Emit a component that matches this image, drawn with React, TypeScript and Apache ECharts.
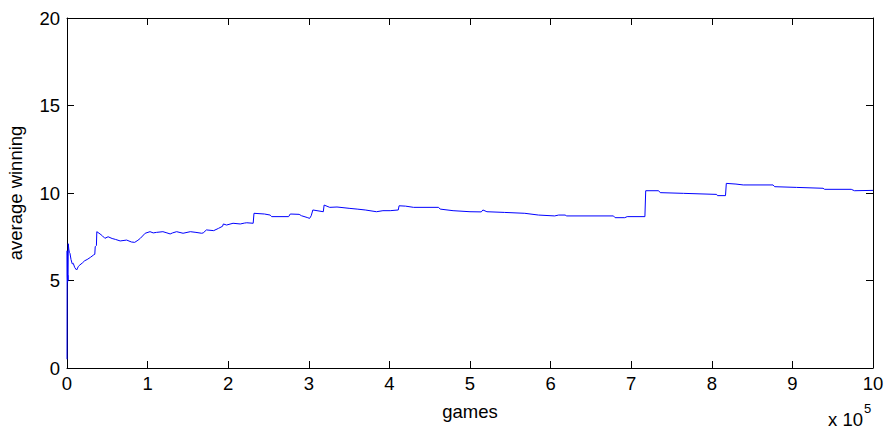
import React, { useEffect, useRef } from "react";
import * as echarts from "echarts";

// games in units of 1e5
const gamesE5: number[] = [
  0, 0.002, 0.004, 0.007, 0.01, 0.013, 0.016, 0.022, 0.03, 0.037, 0.05, 0.065, 0.078, 0.095, 0.11, 0.12,
  0.14, 0.16, 0.19, 0.22, 0.25, 0.29, 0.33, 0.345, 0.35, 0.365, 0.37, 0.41, 0.44, 0.47, 0.51, 0.56, 0.6,
  0.66, 0.74, 0.8, 0.84, 0.88, 0.91, 0.97, 1.03, 1.07, 1.11, 1.19, 1.24, 1.28, 1.31, 1.36, 1.44, 1.53,
  1.6, 1.67, 1.69, 1.73, 1.82, 1.88, 1.93, 1.94, 1.98, 2.06, 2.15, 2.2, 2.23, 2.31, 2.315, 2.32, 2.45,
  2.52, 2.54, 2.75, 2.77, 2.88, 2.91, 2.98, 3.01, 3.03, 3.05, 3.18, 3.19, 3.26, 3.35, 3.51, 3.6, 3.7,
  3.84, 3.92, 4.01, 4.11, 4.12, 4.2, 4.3, 4.61, 4.63, 4.79, 5.0, 5.14, 5.16, 5.21, 5.43, 5.68, 5.85,
  6.05, 6.1, 6.18, 6.2, 6.78, 6.8, 6.92, 6.95, 7.17, 7.18, 7.34, 7.36, 7.65, 8.06, 8.07, 8.17, 8.18,
  8.3, 8.39, 8.76, 8.78, 9.05, 9.38, 9.4, 9.73, 9.77, 10,
];
const avgWinning: number[] = [
  0.5, 6.7, 5.3, 4.9, 5.3, 5.0, 7.1, 6.8, 6.6, 6.55, 6.2, 5.95, 5.98, 5.75, 5.65, 5.6,
  5.8, 5.89, 6.0, 6.13, 6.2, 6.32, 6.46, 6.5, 6.93, 7.0, 7.79, 7.66, 7.55, 7.41, 7.5, 7.4, 7.35,
  7.26, 7.31, 7.2, 7.18, 7.3, 7.41, 7.7, 7.79, 7.72, 7.75, 7.79, 7.72, 7.66, 7.72, 7.79, 7.7, 7.79,
  7.75, 7.7, 7.72, 7.89, 7.85, 7.98, 8.1, 8.23, 8.17, 8.27, 8.23, 8.28, 8.3, 8.27, 8.3, 8.84, 8.8,
  8.74, 8.65, 8.65, 8.8, 8.78, 8.7, 8.6, 8.55, 8.7, 9.03, 8.93, 9.31, 9.18, 9.2, 9.12, 9.08, 9.03,
  8.93, 8.99, 8.99, 9.03, 9.27, 9.25, 9.18, 9.18, 9.08, 8.99, 8.93, 8.92, 9.03, 8.93, 8.89, 8.84, 8.74,
  8.69, 8.74, 8.74, 8.69, 8.69, 8.59, 8.59, 8.65, 8.65, 10.13, 10.13, 10.02, 9.98, 9.92, 9.85, 9.85, 10.55,
  10.51, 10.46, 10.46, 10.36, 10.32, 10.27, 10.21, 10.21, 10.13, 10.15,
];

const xTicks = [0, 1, 2, 3, 4, 5, 6, 7, 8, 9, 10];
const yTicks = [0, 5, 10, 15, 20];

const FONT = "'Liberation Sans', Arial, sans-serif";
const FS = 18.5;

export default function App() {
  const ref = useRef<HTMLDivElement>(null);
  useEffect(() => {
    if (!ref.current) return;
    const chart = echarts.init(ref.current, null, { renderer: "svg" });
    const data = gamesE5.map((g, i) => [g, avgWinning[i]]);
    const axisLine = { show: true, onZero: false, lineStyle: { color: "#000", width: 1 } };
    const tick = { show: true, inside: true, length: 7, lineStyle: { color: "#000", width: 1 } };
    chart.setOption({
      animation: false,
      backgroundColor: "#fff",
      grid: { left: 67, right: 13, top: 18, bottom: 61, containLabel: false, outerBoundsMode: "none" },
      xAxis: [
        {
          type: "value",
          min: xTicks[0],
          max: xTicks[xTicks.length - 1],
          interval: 1,
          position: "bottom",
          axisLine,
          axisTick: tick,
          splitLine: { show: false },
          axisLabel: { color: "#000", fontFamily: FONT, fontSize: FS, margin: 6 },
          name: "games",
          nameLocation: "middle",
          nameGap: 34,
          nameTextStyle: { color: "#000", fontFamily: FONT, fontSize: FS },
        },
        {
          type: "value",
          min: xTicks[0],
          max: xTicks[xTicks.length - 1],
          interval: 1,
          position: "top",
          axisLine,
          axisTick: tick,
          splitLine: { show: false },
          axisLabel: { show: false },
        },
      ],
      yAxis: [
        {
          type: "value",
          min: yTicks[0],
          max: yTicks[yTicks.length - 1],
          interval: 5,
          position: "left",
          axisLine,
          axisTick: tick,
          splitLine: { show: false },
          axisLabel: { color: "#000", fontFamily: FONT, fontSize: FS, margin: 7 },
          name: "average winning",
          nameLocation: "middle",
          nameGap: 42,
          nameTextStyle: { color: "#000", fontFamily: FONT, fontSize: FS },
        },
        {
          type: "value",
          min: yTicks[0],
          max: yTicks[yTicks.length - 1],
          interval: 5,
          position: "right",
          axisLine,
          axisTick: tick,
          splitLine: { show: false },
          axisLabel: { show: false },
        },
      ],
      graphic: [
        {
          type: "text",
          left: 828,
          top: 402,
          style: {
            text: "{a|x 10}{b|5}",
            rich: {
              a: { fontFamily: FONT, fontSize: FS, fill: "#000", verticalAlign: "bottom", padding: [8, 0, 0, 0] },
              b: { fontFamily: FONT, fontSize: 13, fill: "#000", verticalAlign: "top", padding: [0, 0, 10, 1] },
            },
          },
        },
      ],
      series: [
        {
          type: "line",
          data,
          xAxisIndex: 0,
          yAxisIndex: 0,
          showSymbol: false,
          symbol: "none",
          lineStyle: { color: "#0000ff", width: 1 },
        },
      ],
    });
    return () => chart.dispose();
  }, []);
  return <div ref={ref} style={{ width: 886, height: 429, position: "absolute", left: 0, top: 0 }} />;
}
